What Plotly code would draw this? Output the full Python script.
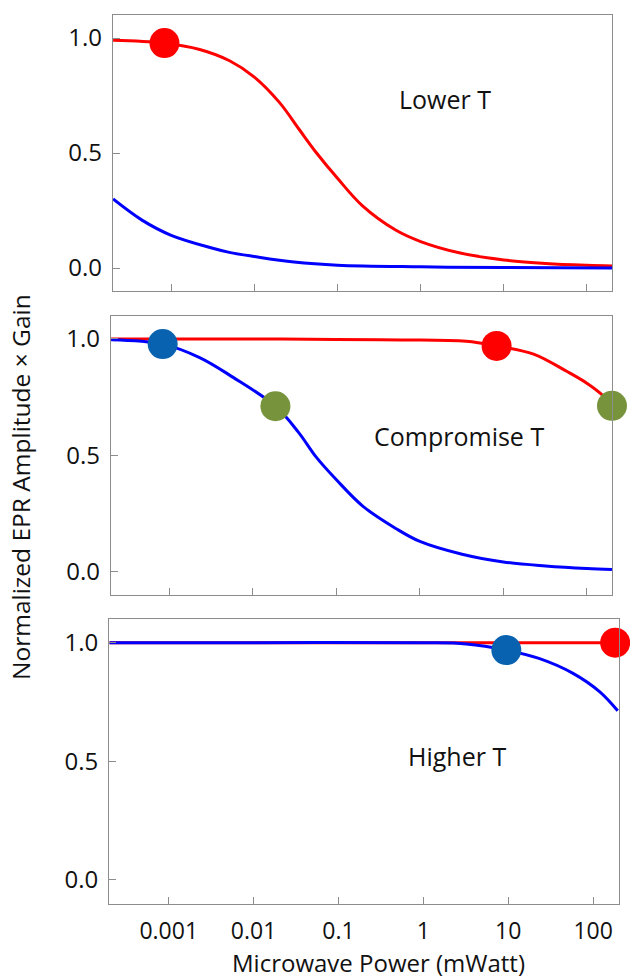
import plotly.graph_objects as go

W, H = 630, 980

# ---------------- data ----------------
# Panel 1: Lower T
p1_red_x = [0.0002, 0.0008, 0.0022, 0.0051, 0.01, 0.02, 0.035, 0.056, 0.1, 0.2, 0.5, 1, 3, 10, 32, 100, 200]
p1_red_y = [0.99, 0.978, 0.95, 0.90, 0.83, 0.72, 0.60, 0.50, 0.39, 0.27, 0.165, 0.115, 0.065, 0.035, 0.02, 0.012, 0.009]
p1_blue_x = [0.0002, 0.00045, 0.001, 0.003, 0.005, 0.01, 0.03, 0.1, 1, 10, 200]
p1_blue_y = [0.30, 0.207, 0.142, 0.088, 0.068, 0.050, 0.026, 0.012, 0.005, 0.002, 0.0]
p1_mark_x = [0.00083]
p1_mark_y = [0.978]
p1_mark_c = ["#FF0000"]

# Panel 2: Compromise T
p2_red_x = [0.0002, 0.001, 0.01, 0.1, 0.6, 3.6, 8.3, 23, 58, 100, 158, 200]
p2_red_y = [1.0, 1.0, 1.0, 0.998, 0.996, 0.99, 0.97, 0.935, 0.86, 0.81, 0.755, 0.713]
p2_blue_x = [0.0002, 0.00083, 0.0023, 0.0058, 0.0186, 0.035, 0.058, 0.1, 0.21, 0.52, 1, 3.2, 10, 32, 100, 200]
p2_blue_y = [0.997, 0.978, 0.92, 0.835, 0.711, 0.60, 0.49, 0.395, 0.28, 0.185, 0.13, 0.075, 0.042, 0.025, 0.014, 0.010]
p2_mark_x = [0.00083, 0.0186, 8.3, 200]
p2_mark_y = [0.978, 0.711, 0.97, 0.713]
p2_mark_c = ["#0862B0", "#77933C", "#FF0000", "#77933C"]

# Panel 3: Higher T
p3_red_x = [0.0002, 0.01, 1, 10, 100, 200]
p3_red_y = [1.0, 1.0, 1.0, 1.0, 1.0, 1.0]
p3_blue_x = [0.0002, 0.01, 1, 3.2, 9.5, 23, 58, 120, 195]
p3_blue_y = [1.0, 1.0, 1.0, 0.995, 0.969, 0.934, 0.871, 0.793, 0.713]
p3_mark_x = [9.5, 182]
p3_mark_y = [0.969, 1.0]
p3_mark_c = ["#0862B0", "#FF0000"]

tick_vals = [0.001, 0.01, 0.1, 1, 10, 100]
tick_text = ["0.001", "0.01", "0.1", "1", "10", "100"]
y_ticks = [0.0, 0.5, 1.0]
y_tick_text = ["0.0", "0.5", "1.0"]
panel_labels = ["Lower T", "Compromise T", "Higher T"]

# ---------------- layout geometry (px) ----------------
panels = [
    dict(l=113, r=612.3, t=15, b=291),
    dict(l=111, r=612.3, t=315.7, b=595),
    dict(l=109.3, r=619, t=619, b=903.7),
]
label_pos = [(444.7, 99), (459, 436), (456.7, 756)]

FONT = "Open Sans"
AXC = "#8c8c8c"
RED = "#FF0000"
BLUE = "#0000FF"

data = [
    (p1_red_x, p1_red_y, p1_blue_x, p1_blue_y, p1_mark_x, p1_mark_y, p1_mark_c),
    (p2_red_x, p2_red_y, p2_blue_x, p2_blue_y, p2_mark_x, p2_mark_y, p2_mark_c),
    (p3_red_x, p3_red_y, p3_blue_x, p3_blue_y, p3_mark_x, p3_mark_y, p3_mark_c),
]

fig = go.Figure()
layout = dict(
    width=W, height=H,
    margin=dict(l=0, r=0, t=0, b=0),
    paper_bgcolor="white", plot_bgcolor="white",
    showlegend=False,
    font=dict(family=FONT, color="#111111"),
)

for i, (rx, ry, bx, by, mx, my, mc) in enumerate(data):
    n = "" if i == 0 else str(i + 1)
    xa, ya = "x" + n, "y" + n
    fig.add_trace(go.Scatter(x=rx, y=ry, mode="lines", line=dict(color=RED, width=3, shape="spline", smoothing=1.0),
                             xaxis=xa, yaxis=ya, hoverinfo="skip"))
    fig.add_trace(go.Scatter(x=bx, y=by, mode="lines", line=dict(color=BLUE, width=3, shape="spline", smoothing=1.0),
                             xaxis=xa, yaxis=ya, hoverinfo="skip"))
    fig.add_trace(go.Scatter(x=mx, y=my, mode="markers", marker=dict(color=mc, size=30, line=dict(width=0)),
                             xaxis=xa, yaxis=ya, cliponaxis=False, hoverinfo="skip"))
    p = panels[i]
    layout["xaxis" + n] = dict(
        type="log", range=[-3.70, 2.305],
        domain=[p["l"] / W, p["r"] / W],
        anchor=ya,
        showline=True, mirror=True, linecolor=AXC, linewidth=1.3,
        ticks="inside", ticklen=7, tickcolor=AXC, tickwidth=1.2,
        tickvals=tick_vals, ticktext=tick_text,
        showticklabels=(i == 2),
        tickfont=dict(size=23, family=FONT, color="#111111"),
        ticklabelstandoff=7,
        showgrid=False, zeroline=False, automargin=False,
    )
    layout["yaxis" + n] = dict(
        range=[-0.10, 1.10],
        domain=[1 - p["b"] / H, 1 - p["t"] / H],
        anchor=xa,
        showline=True, mirror=True, linecolor=AXC, linewidth=1.3,
        ticks="inside", ticklen=7, tickcolor=AXC, tickwidth=1.2,
        tickvals=y_ticks, ticktext=y_tick_text,
        tickfont=dict(size=24, family=FONT, color="#111111"),
        ticklabelstandoff=5,
        showgrid=False, zeroline=False, automargin=False,
    )

annotations = []
for (lx, ly), txt in zip(label_pos, panel_labels):
    annotations.append(dict(x=lx / W, y=1 - ly / H, xref="paper", yref="paper", text=txt, showarrow=False,
                            font=dict(size=25, family=FONT, color="#111111"), xanchor="center", yanchor="middle"))
annotations.append(dict(x=378 / W, y=0.0, xref="paper", yref="paper", text="Microwave Power (mWatt)",
                        showarrow=False, font=dict(size=24, family=FONT, color="#111111"),
                        xanchor="center", yanchor="bottom", borderpad=0))
annotations.append(dict(x=20 / W, y=1 - 487 / H, xref="paper", yref="paper", text="Normalized EPR Amplitude × Gain",
                        showarrow=False, textangle=-90, font=dict(size=24.5, family=FONT, color="#111111"),
                        xanchor="center", yanchor="middle"))
layout["annotations"] = annotations

fig.update_layout(**layout)
fig.write_html("out.html", config={"displayModeBar": False},
               post_script="document.body.style.margin='0px';document.body.style.overflow='hidden';")
